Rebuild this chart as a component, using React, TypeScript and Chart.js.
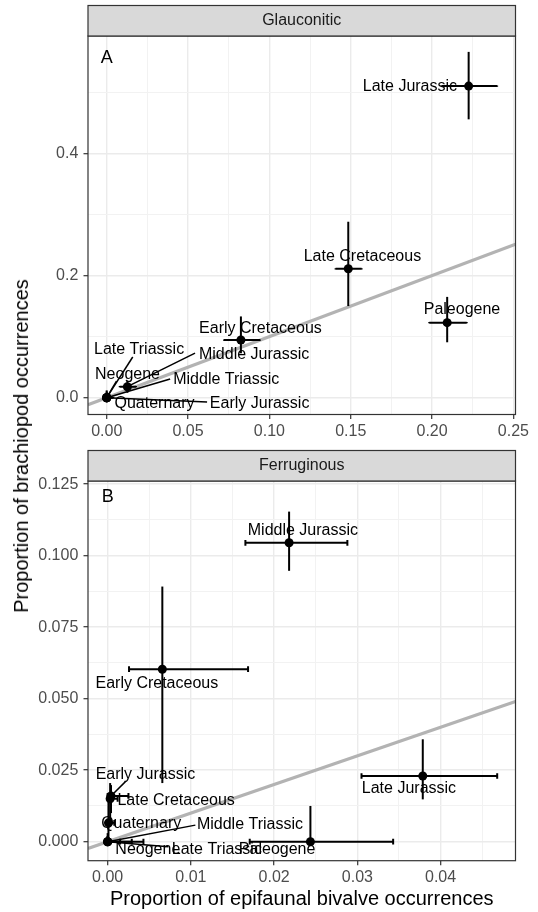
import React, { useEffect, useRef } from "react";
import { Chart, registerables } from "chart.js";

Chart.register(...registerables);

const FONT = '"Liberation Sans", Arial, Helvetica, sans-serif';

// ---------------- Panel A : Glauconitic ----------------
const glaucNames = ["Late Jurassic", "Late Cretaceous", "Paleogene", "Early Cretaceous", "Middle Jurassic", "Late Triassic", "Neogene", "Middle Triassic", "Quaternary", "Early Jurassic"];
const glaucX = [0.2225, 0.1485, 0.2093, 0.0825, 0.0127, 0, 0, 0, 0, 0];
const glaucY = [0.510, 0.211, 0.1228, 0.0944, 0.018, 0, 0, 0, 0, 0];
const glaucXLo = [0.206, 0.1407, 0.1983, 0.0721, 0.008, 0, 0, 0, 0, 0];
const glaucXHi = [0.240, 0.1567, 0.2213, 0.0942, 0.018, 0.003, 0.002, 0.004, 0.001, 0.002];
const glaucYLo = [0.4556, 0.150, 0.0907, 0.0727, 0.008, 0, 0, 0, 0, 0];
const glaucYHi = [0.566, 0.288, 0.165, 0.133, 0.028, 0.012, 0.008, 0.010, 0.004, 0.006];
const glaucLabelX = [0.1864, 0.1572, 0.2184, 0.0945, 0.0906, 0.0199, 0.0128, 0.0735, 0.0294, 0.094];
const glaucLabelY = [0.5095, 0.2308, 0.1435, 0.1136, 0.071, 0.0792, 0.0383, 0.029, -0.0092, -0.0092];
const glaucSegX: (number | null)[] = [null, null, null, null, 0.0543, 0.016, 0.006, 0.039, null, 0.0617];
const glaucSegY: (number | null)[] = [null, null, null, null, 0.073, 0.0666, 0.027, 0.0306, null, -0.0071];
const glaucXTicks = [0, 0.05, 0.1, 0.15, 0.2, 0.25];
const glaucXTickLabels = ["0.00", "0.05", "0.10", "0.15", "0.20", "0.25"];
const glaucXMinor = [0.025, 0.075, 0.125, 0.175, 0.225];
const glaucYTicks = [0, 0.2, 0.4];
const glaucYTickLabels = ["0.0", "0.2", "0.4"];
const glaucYMinor = [0.1, 0.3, 0.5];
const glaucXRange = [-0.0115, 0.2513];
const glaucYRange = [-0.0275, 0.592];
const glaucFit = [1.0, 0.0]; // slope, intercept
const glaucTag = ["A", 0, 0.556] as const;

// ---------------- Panel B : Ferruginous ----------------
const ferrNames = ["Middle Jurassic", "Early Cretaceous", "Late Jurassic", "Paleogene", "Early Jurassic", "Late Cretaceous", "Quaternary", "Middle Triassic", "Neogene", "Late Triassic"];
const ferrX = [0.0218, 0.00657, 0.03786, 0.02436, 0.0004, 0.0003, 0.0001, 0, 0, 0];
const ferrY = [0.1045, 0.0603, 0.02297, 0, 0.016, 0.015, 0.0066, 0, 0, 0];
const ferrXLo = [0.01655, 0.00257, 0.0305, 0.01707, 0, 0.0001, 0, 0, 0, 0];
const ferrXHi = [0.0288, 0.01687, 0.0468, 0.0343, 0.0025, 0.0012, 0.0008, 0.0015, 0.0043, 0.0029];
const ferrYLo = [0.0947, 0.0205, 0.0148, 0, 0.01, 0.0075, 0, 0, 0, 0];
const ferrYHi = [0.1154, 0.0892, 0.0358, 0.0125, 0.0198, 0.0205, 0.014, 0.003, 0.002, 0.002];
const ferrLabelX = [0.02346, 0.00591, 0.0362, 0.02036, 0.00454, 0.00823, 0.00403, 0.0171, 0.00483, 0.01312];
const ferrLabelY = [0.1087, 0.0554, 0.01867, -0.0029, 0.0233, 0.01434, 0.0062, 0.0061, -0.0029, -0.0029];
const ferrSegX: (number | null)[] = [null, null, null, null, 0.00214, null, null, 0.01054, null, 0.0073];
const ferrSegY: (number | null)[] = [null, null, null, null, 0.021, null, null, 0.0058, null, -0.0018];
const ferrXTicks = [0, 0.01, 0.02, 0.03, 0.04];
const ferrXTickLabels = ["0.00", "0.01", "0.02", "0.03", "0.04"];
const ferrXMinor = [0.005, 0.015, 0.025, 0.035, 0.045];
const ferrYTicks = [0, 0.025, 0.05, 0.075, 0.1, 0.125];
const ferrYTickLabels = ["0.000", "0.025", "0.050", "0.075", "0.100", "0.125"];
const ferrYMinor = [0.0125, 0.0375, 0.0625, 0.0875, 0.1125];
const ferrXRange = [-0.00236, 0.049];
const ferrYRange = [-0.00664, 0.1261];
const ferrFit = [1.0, 0.0];
const ferrTag = ["B", 0, 0.1205] as const;

const capHalf = 0.001; // half-height of horizontal error bar caps (y units)

type Panel = {
  strip: string;
  names: string[];
  x: number[]; y: number[];
  xLo: number[]; xHi: number[]; yLo: number[]; yHi: number[];
  labX: number[]; labY: number[];
  segX: (number | null)[]; segY: (number | null)[];
  xTicks: number[]; xTickLabels: string[]; xMinor: number[];
  yTicks: number[]; yTickLabels: string[]; yMinor: number[];
  xRange: number[]; yRange: number[];
  fit: number[];
  tag: readonly [string, number, number];
};

const panelA: Panel = {
  strip: "Glauconitic", names: glaucNames, x: glaucX, y: glaucY,
  xLo: glaucXLo, xHi: glaucXHi, yLo: glaucYLo, yHi: glaucYHi,
  labX: glaucLabelX, labY: glaucLabelY, segX: glaucSegX, segY: glaucSegY,
  xTicks: glaucXTicks, xTickLabels: glaucXTickLabels, xMinor: glaucXMinor,
  yTicks: glaucYTicks, yTickLabels: glaucYTickLabels, yMinor: glaucYMinor,
  xRange: glaucXRange, yRange: glaucYRange, fit: glaucFit, tag: glaucTag,
};
const panelB: Panel = {
  strip: "Ferruginous", names: ferrNames, x: ferrX, y: ferrY,
  xLo: ferrXLo, xHi: ferrXHi, yLo: ferrYLo, yHi: ferrYHi,
  labX: ferrLabelX, labY: ferrLabelY, segX: ferrSegX, segY: ferrSegY,
  xTicks: ferrXTicks, xTickLabels: ferrXTickLabels, xMinor: ferrXMinor,
  yTicks: ferrYTicks, yTickLabels: ferrYTickLabels, yMinor: ferrYMinor,
  xRange: ferrXRange, yRange: ferrYRange, fit: ferrFit, tag: ferrTag,
};

const near = (a: number, b: number) => Math.abs(a - b) < 1e-9;
const labelOf = (vals: number[], labs: string[], v: number) => {
  const i = vals.findIndex((m) => near(m, v));
  return i >= 0 ? labs[i] : "";
};
const isMajor = (vals: number[], v: number) => vals.some((m) => near(m, v));

const STRIP_H = 30.5;

function makePlugin(P: Panel) {
  return {
    id: "panelDecor",
    afterDatasetDraw(chart: any, args: any) {
      if (args.index !== 1) return;
      const ctx = chart.ctx as CanvasRenderingContext2D;
      const xs = chart.scales.x, ys = chart.scales.y;
      ctx.save();
      ctx.strokeStyle = "#000";
      ctx.lineWidth = 2;
      ctx.lineCap = "butt";
      for (let i = 0; i < P.x.length; i++) {
        const px = xs.getPixelForValue(P.x[i]);
        const py = ys.getPixelForValue(P.y[i]);
        ctx.beginPath();
        ctx.moveTo(px, ys.getPixelForValue(P.yLo[i]));
        ctx.lineTo(px, ys.getPixelForValue(P.yHi[i]));
        ctx.stroke();
        const x0 = xs.getPixelForValue(P.xLo[i]);
        const x1 = xs.getPixelForValue(P.xHi[i]);
        ctx.beginPath();
        ctx.moveTo(x0, py);
        ctx.lineTo(x1, py);
        const c0 = ys.getPixelForValue(P.y[i] - capHalf);
        const c1 = ys.getPixelForValue(P.y[i] + capHalf);
        ctx.moveTo(x0, c0); ctx.lineTo(x0, c1);
        ctx.moveTo(x1, c0); ctx.lineTo(x1, c1);
        ctx.stroke();
      }
      ctx.restore();
    },
    afterDraw(chart: any) {
      const ctx = chart.ctx as CanvasRenderingContext2D;
      const xs = chart.scales.x, ys = chart.scales.y;
      const { left, right, top, bottom } = chart.chartArea;
      ctx.save();
      // leader segments
      ctx.strokeStyle = "#000";
      ctx.lineWidth = 1.5;
      for (let i = 0; i < P.x.length; i++) {
        const sx = P.segX[i], sy = P.segY[i];
        if (sx === null || sy === null) continue;
        ctx.beginPath();
        ctx.moveTo(xs.getPixelForValue(P.x[i]), ys.getPixelForValue(P.y[i]));
        ctx.lineTo(xs.getPixelForValue(sx), ys.getPixelForValue(sy));
        ctx.stroke();
      }
      // labels
      ctx.fillStyle = "#000";
      ctx.font = `16px ${FONT}`;
      ctx.textAlign = "center";
      ctx.textBaseline = "middle";
      for (let i = 0; i < P.x.length; i++) {
        ctx.fillText(P.names[i], xs.getPixelForValue(P.labX[i]), ys.getPixelForValue(P.labY[i]));
      }
      // panel tag
      ctx.font = `18px ${FONT}`;
      ctx.fillText(P.tag[0], xs.getPixelForValue(P.tag[1]), ys.getPixelForValue(P.tag[2]));
      // panel border
      ctx.strokeStyle = "#333333";
      ctx.lineWidth = 1.2;
      ctx.strokeRect(left, top, right - left, bottom - top);
      // strip
      ctx.fillStyle = "#D9D9D9";
      ctx.fillRect(left, top - STRIP_H, right - left, STRIP_H);
      ctx.strokeRect(left, top - STRIP_H, right - left, STRIP_H);
      ctx.fillStyle = "#1A1A1A";
      ctx.font = `16px ${FONT}`;
      ctx.fillText(P.strip, (left + right) / 2, top - STRIP_H / 2);
      ctx.restore();
    },
  };
}

function makeChart(canvas: HTMLCanvasElement, P: Panel, padTop: number, xAxisH: number, xTitle: string | null) {
  const xAll = [...P.xTicks, ...P.xMinor].sort((a, b) => a - b);
  const yAll = [...P.yTicks, ...P.yMinor].sort((a, b) => a - b);
  const [slope, icept] = P.fit;
  const gridColor = (vals: number[]) => (c: any) => (c.tick && isMajor(vals, c.tick.value) ? "#EBEBEB" : "#F2F2F2");
  const gridWidth = (vals: number[]) => (c: any) => (c.tick && isMajor(vals, c.tick.value) ? 1.4 : 1);
  const tickColor = (vals: number[]) => (c: any) => (c.tick && isMajor(vals, c.tick.value) ? "#333333" : "rgba(0,0,0,0)");
  return new Chart(canvas, {
    type: "scatter",
    data: {
      datasets: [
        {
          type: "scatter",
          data: P.x.map((v, i) => ({ x: v, y: P.y[i] })),
          pointRadius: 4.5,
          pointBackgroundColor: "#000",
          pointBorderWidth: 0,
          pointHoverRadius: 4.5,
        },
        {
          type: "line",
          data: P.xRange.map((v) => ({ x: v, y: slope * v + icept })),
          borderColor: "#B3B3B3",
          borderWidth: 3.2,
          pointRadius: 0,
          fill: false,
        },
      ],
    } as any,
    options: {
      animation: false,
      responsive: false,
      events: [],
      layout: { padding: { left: 0, right: 22.5, top: padTop, bottom: 0 } },
      plugins: { legend: { display: false }, tooltip: { enabled: false } },
      scales: {
        x: {
          type: "linear",
          min: P.xRange[0],
          max: P.xRange[1],
          afterBuildTicks: (s: any) => { s.ticks = xAll.map((v) => ({ value: v })); },
          afterFit: (s: any) => { s.height = xAxisH; s.paddingLeft = 0; s.paddingRight = 0; },
          border: { display: false },
          grid: { color: gridColor(P.xTicks), lineWidth: gridWidth(P.xTicks), tickColor: tickColor(P.xTicks), tickLength: 4.5, tickWidth: 1.2 },
          ticks: {
            autoSkip: false, maxRotation: 0, padding: 3, color: "#4D4D4D",
            font: { family: FONT, size: 16 },
            callback: (v: any) => labelOf(P.xTicks, P.xTickLabels, Number(v)),
          },
          title: xTitle
            ? { display: true, text: xTitle, color: "#000", font: { family: FONT, size: 20 }, padding: { top: 0, bottom: 1 } }
            : { display: false },
        },
        y: {
          type: "linear",
          min: P.yRange[0],
          max: P.yRange[1],
          afterBuildTicks: (s: any) => { s.ticks = yAll.map((v) => ({ value: v })); },
          afterFit: (s: any) => { s.width = 88; s.paddingTop = 0; s.paddingBottom = 0; },
          border: { display: false },
          grid: { color: gridColor(P.yTicks), lineWidth: gridWidth(P.yTicks), tickColor: tickColor(P.yTicks), tickLength: 4.5, tickWidth: 1.2 },
          ticks: {
            autoSkip: false, padding: 5.2, color: "#4D4D4D",
            font: { family: FONT, size: 16 },
            callback: (v: any) => labelOf(P.yTicks, P.yTickLabels, Number(v)),
          },
        },
      },
    } as any,
    plugins: [makePlugin(P)],
  });
}

export default function App() {
  const topRef = useRef<HTMLCanvasElement>(null);
  const botRef = useRef<HTMLCanvasElement>(null);
  useEffect(() => {
    const c1 = makeChart(topRef.current!, panelA, 36, 25.5, null);
    const c2 = makeChart(botRef.current!, panelB, 41, 51.3, "Proportion of epifaunal bivalve occurrences");
    return () => { c1.destroy(); c2.destroy(); };
  }, []);
  return (
    <div style={{ position: "absolute", left: 0, top: 0, width: 538, height: 912, background: "#fff", overflow: "hidden" }}>
      <canvas ref={topRef} width={538} height={440} style={{ position: "absolute", left: 0, top: 0, width: 538, height: 440 }} />
      <canvas ref={botRef} width={538} height={472} style={{ position: "absolute", left: 0, top: 440, width: 538, height: 472 }} />
      <div
        style={{
          position: "absolute", left: 21, top: 446,
          transform: "translate(-50%, -50%) rotate(-90deg)",
          font: `20px ${FONT}`, lineHeight: "24px", whiteSpace: "nowrap", color: "#000",
        }}
      >
        Proportion of brachiopod occurrences
      </div>
    </div>
  );
}
